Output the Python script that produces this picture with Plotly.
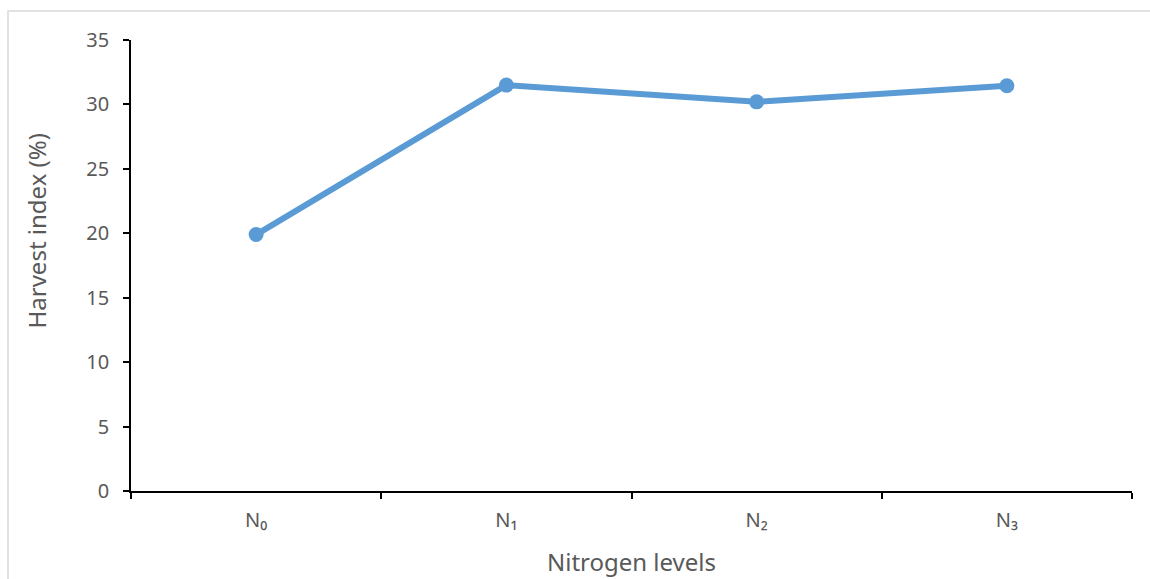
import plotly.graph_objects as go

categories = ["N\u2080", "N\u2081", "N\u2082", "N\u2083"]
harvest_index = [19.9, 31.5, 30.2, 31.45]
y_ticks = [0, 5, 10, 15, 20, 25, 30, 35]

W, H = 1150, 579
L, R, T, B = 131, 18, 40, 88
pw, ph = W - L - R, H - T - B

fig = go.Figure(go.Scatter(
    x=categories, y=harvest_index, mode="lines+markers",
    line=dict(color="#5B9BD5", width=6),
    marker=dict(color="#5B9BD5", size=15),
    showlegend=False,
))

font_family = "Noto Sans, Open Sans, sans-serif"
fig.update_layout(
    width=W, height=H,
    margin=dict(l=L, r=R, t=T, b=B, autoexpand=False),
    paper_bgcolor="white", plot_bgcolor="white",
    font=dict(family=font_family, color="#595959", size=18),
    xaxis=dict(
        type="category", range=[-0.5, 3.5],
        showline=True, linecolor="black", linewidth=1.5,
        ticks="outside", tickson="boundaries", ticklen=6, tickcolor="black", tickwidth=1.5,
        showgrid=False, zeroline=False,
        tickfont=dict(family=font_family, size=20, color="#595959"),
        ticklabelstandoff=10,
        title=dict(text="Nitrogen levels", font=dict(family=font_family, size=24, color="#595959"), standoff=22),
    ),
    yaxis=dict(
        range=[0, 35], tickvals=y_ticks,
        showline=True, linecolor="black", linewidth=1.5,
        ticks="outside", ticklen=6, tickcolor="black", tickwidth=1.5,
        showgrid=False, zeroline=False,
        tickfont=dict(family=font_family, size=20, color="#595959"),
        ticklabelstandoff=10,
    ),
    annotations=[dict(
        text="Harvest index (%)", textangle=-90, showarrow=False,
        xref="paper", yref="paper",
        x=(36 - L) / pw, y=(H - B - 231.5) / ph,
        xanchor="center", yanchor="middle",
        font=dict(family=font_family, size=24, color="#595959"),
    )],
    shapes=[dict(
        type="rect", xref="paper", yref="paper",
        x0=(8 - L) / pw, x1=(1240 - L) / pw,
        y0=(H - B - 700) / ph, y1=(H - B - 11) / ph,
        line=dict(color="#D9D9D9", width=1.5), fillcolor="rgba(0,0,0,0)", layer="below",
    )],
)

fig.write_html("out.html")
